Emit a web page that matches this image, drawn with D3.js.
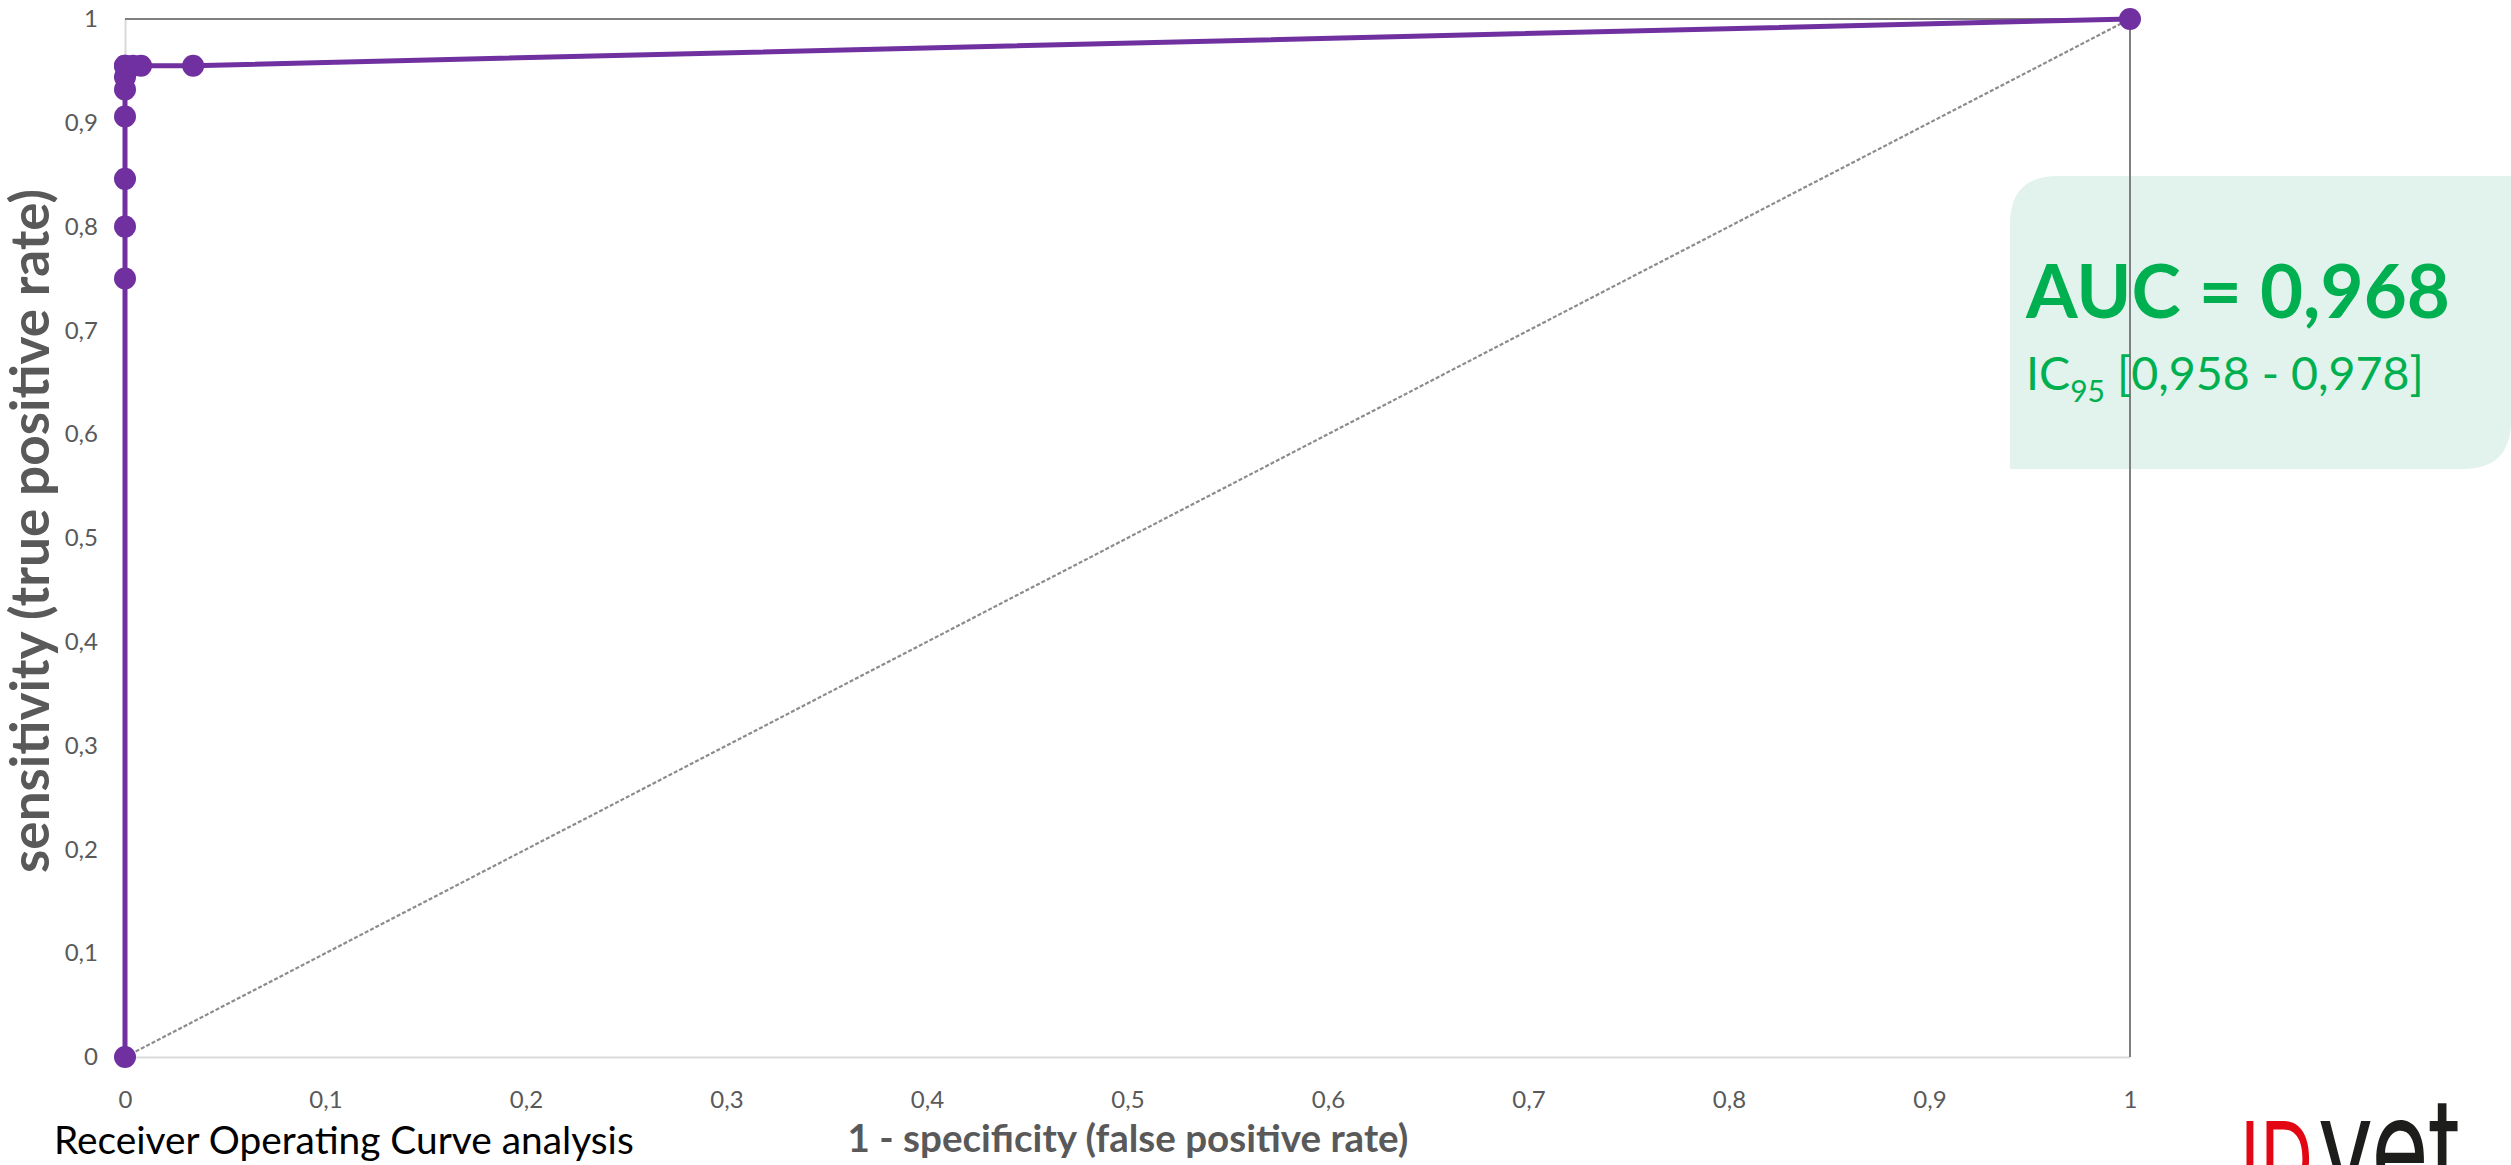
<!DOCTYPE html>
<html>
<head>
<meta charset="utf-8">
<script src="https://cdn.jsdelivr.net/npm/d3@7"></script>
<style>
  html, body { margin: 0; padding: 0; background: #ffffff; }
  svg { display: block; }
</style>
</head>
<body>
<svg id="chart" width="2511" height="1165"></svg>
<script>
// ---- data ----
const fpr = [0, 0, 0, 0, 0, 0, 0, 0, 0, 0.004, 0.008, 0.034, 1];
const tpr = [0, 0.75, 0.80, 0.846, 0.906, 0.932, 0.944, 0.955, 0.955, 0.955, 0.955, 0.955, 1];
const diagonal = [[0, 0], [1, 1]];
const xTicks = [0, 0.1, 0.2, 0.3, 0.4, 0.5, 0.6, 0.7, 0.8, 0.9, 1];
const yTicks = [0, 0.1, 0.2, 0.3, 0.4, 0.5, 0.6, 0.7, 0.8, 0.9, 1];
const xTitle = "1 - specificity (false positive rate)";
const yTitle = "sensitivity (true positive rate)";
const caption = "Receiver Operating Curve analysis";
const aucText = "AUC = 0,968";
const ciLabel = "IC";
const ciSub = "95";
const ciRange = " [0,958 - 0,978]";
const logoRed = "ID";
const logoDark = "vet";

// ---- layout ----
const svg = d3.select("#chart");
const L = 125, R = 2130, T = 19, B = 1057;
const x = d3.scaleLinear().domain([0, 1]).range([L, R]);
const y = d3.scaleLinear().domain([0, 1]).range([B, T]);
const fmt = d3.formatLocale({decimal: ",", thousands: " ", grouping: [3], currency: ["", ""]}).format("~g");

const tickFont = "Lato, 'Open Sans', sans-serif";
const purple = "#7030A0";

function fitText(sel, width) {
  const n = sel.node();
  const fs = parseFloat(sel.attr("font-size"));
  const w = n.getComputedTextLength();
  sel.attr("font-size", fs * width / w);
}

// AUC box (behind plot frame), top-left and bottom-right corners rounded
const bx0 = 2010, by0 = 176, bx1 = 2511, by1 = 469, rad = 48;
svg.append("path")
  .attr("d", `M${bx0},${by1} L${bx0},${by0 + rad} Q${bx0},${by0} ${bx0 + rad},${by0} L${bx1},${by0} L${bx1},${by1 - rad} Q${bx1},${by1} ${bx1 - rad},${by1} Z`)
  .attr("fill", "#e2f3ee");

// axes
const gx = svg.append("g").attr("transform", `translate(0,${B})`)
  .call(d3.axisBottom(x).tickValues(xTicks).tickFormat(fmt).tickSize(0).tickPadding(34));
const gy = svg.append("g").attr("transform", `translate(${L},0)`)
  .call(d3.axisLeft(y).tickValues(yTicks).tickFormat(fmt).tickSize(0).tickPadding(27));
[gx, gy].forEach(g => {
  g.select(".domain").attr("stroke", "#d9d9d9").attr("stroke-width", 2);
  g.selectAll("text").attr("font-family", tickFont).attr("font-size", 24).attr("fill", "#595959");
});

// top and right frame lines
svg.append("line").attr("x1", x(0)).attr("x2", x(1)).attr("y1", y(1)).attr("y2", y(1))
  .attr("stroke", "#7f7f7f").attr("stroke-width", 2);
svg.append("line").attr("x1", x(1)).attr("x2", x(1)).attr("y1", y(1)).attr("y2", y(0))
  .attr("stroke", "#7f7f7f").attr("stroke-width", 2);

// diagonal reference line
svg.append("path").datum(diagonal)
  .attr("d", d3.line().x(d => x(d[0])).y(d => y(d[1])))
  .attr("fill", "none").attr("stroke", "#8c8c8c").attr("stroke-width", 2.2)
  .attr("stroke-dasharray", "4 2");

// ROC curve
const pts = fpr.map((f, i) => [f, tpr[i]]);
svg.append("path").datum(pts)
  .attr("d", d3.line().x(d => x(d[0])).y(d => y(d[1])))
  .attr("fill", "none").attr("stroke", purple).attr("stroke-width", 5)
  .attr("stroke-linejoin", "round");
svg.append("g").selectAll("circle").data(pts).join("circle")
  .attr("cx", d => x(d[0])).attr("cy", d => y(d[1])).attr("r", 11)
  .attr("fill", purple);

// axis titles
const xt = svg.append("text").text(xTitle)
  .attr("x", 1128).attr("y", 1152).attr("text-anchor", "middle")
  .attr("font-family", tickFont).attr("font-weight", "bold")
  .attr("font-size", 32).attr("fill", "#595959");
fitText(xt, 561);
const yt = svg.append("text").text(yTitle)
  .attr("transform", `translate(49,531) rotate(-90)`).attr("text-anchor", "middle")
  .attr("font-family", tickFont).attr("font-weight", "bold")
  .attr("font-size", 40).attr("fill", "#595959");
fitText(yt, 684);

// caption
const cap = svg.append("text").text(caption)
  .attr("x", 54).attr("y", 1154)
  .attr("font-family", tickFont).attr("font-size", 34).attr("fill", "#000000");
fitText(cap, 580);

// AUC text
const auc = svg.append("text").text(aucText)
  .attr("x", 2026).attr("y", 318)
  .attr("font-family", tickFont).attr("font-weight", "bold")
  .attr("font-size", 76).attr("fill", "#00b050");
fitText(auc, 424);
const ci = svg.append("text").attr("x", 2026).attr("y", 390)
  .attr("font-family", tickFont).attr("font-size", 44).attr("fill", "#00b050");
ci.append("tspan").text(ciLabel);
ci.append("tspan").text(ciSub).attr("font-size", 30).attr("dy", 12);
ci.append("tspan").text(ciRange).attr("dy", -12);
fitText(ci, 400);

// logo (single text, horizontally condensed)
const logo = svg.append("text")
  .attr("transform", "translate(2240,1196) scale(0.72,1)")
  .attr("font-family", "Inter, Lato, sans-serif").attr("font-weight", 400);
logo.append("tspan").text(logoRed).attr("x", 0)
  .attr("font-size", 103).attr("fill", "#e30613");
logo.append("tspan").text(logoDark).attr("dx", 6)
  .attr("font-size", 137).attr("fill", "#1d1d1b");
</script>
</body>
</html>
